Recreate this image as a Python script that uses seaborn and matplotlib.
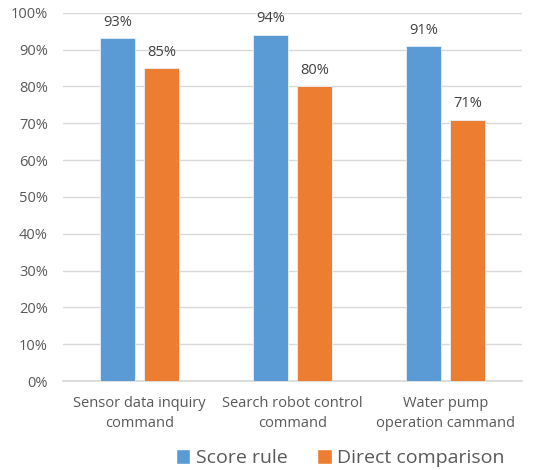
import matplotlib
matplotlib.use("Agg")
import matplotlib.pyplot as plt
import seaborn as sns
import pandas as pd
from matplotlib.ticker import FuncFormatter
from matplotlib.patches import Patch

categories = ["Sensor data inquiry\ncommand", "Search robot control\ncommand", "Water pump\noperation cammand"]
series_names = ["Score rule", "Direct comparison"]
score_rule = [93, 94, 91]
direct_comparison = [85, 80, 71]
colors = ["#5B9BD5", "#ED7D31"]

rows = []
for c, v in zip(categories, score_rule):
    rows.append({"category": c, "series": series_names[0], "value": v})
for c, v in zip(categories, direct_comparison):
    rows.append({"category": c, "series": series_names[1], "value": v})
df = pd.DataFrame(rows)

sns.set_theme(style="white")
plt.rcParams['font.family'] = ['Open Sans', 'DejaVu Sans']

fig = plt.figure(figsize=(5.35, 4.7), dpi=100)
ax = fig.add_axes([0.118, 0.189, 0.858, 0.784])

sns.barplot(data=df, x="category", y="value", hue="series", order=categories,
            hue_order=series_names, palette=colors, width=0.57, gap=0.2,
            saturation=1, ax=ax, legend=False, errorbar=None, zorder=3,
            edgecolor="#EAF1FA", linewidth=0.6)

for cont in ax.containers:
    ax.bar_label(cont, labels=[f"{int(round(b.get_height()))}%" for b in cont],
                 padding=6, fontsize=10.5, color="#404040")

ax.set_ylim(0, 100)
ax.set_yticks(range(0, 101, 10))
ax.yaxis.set_major_formatter(FuncFormatter(lambda v, p: f"{int(v)}%"))
ax.grid(axis="y", color="#D9D9D9", linewidth=1, zorder=0)
ax.set_axisbelow(True)
for s in ["top", "right", "left"]:
    ax.spines[s].set_visible(False)
ax.spines["bottom"].set_color("#D9D9D9")
ax.tick_params(axis="y", length=0, labelsize=10.5, colors="#595959", pad=11)
ax.tick_params(axis="x", length=0, labelsize=10.5, colors="#595959", pad=11)
for t in ax.get_xticklabels():
    t.set_linespacing(1.45)
ax.set_xlabel("")
ax.set_ylabel("")
ax.set_xlim(-0.5, 2.5)

handles = [Patch(facecolor=colors[0]), Patch(facecolor=colors[1])]
fig.legend(handles, series_names, loc="center", bbox_to_anchor=(0.636, 0.025),
           ncol=2, frameon=False, fontsize=14, handlelength=0.75, handleheight=0.75,
           handletextpad=0.3, columnspacing=1.5, labelcolor="#595959")

fig.savefig("out.png", dpi=100)
